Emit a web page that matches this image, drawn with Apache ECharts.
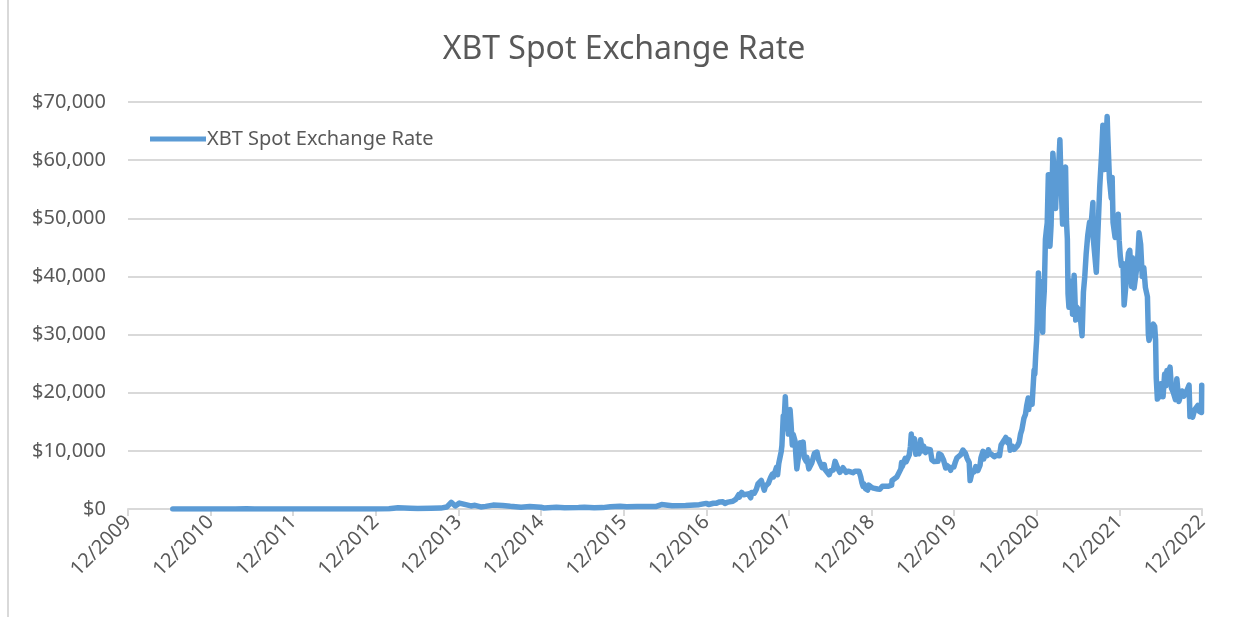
<!DOCTYPE html>
<html>
<head>
<meta charset="utf-8">
<title>XBT Spot Exchange Rate</title>
<script src="https://cdn.jsdelivr.net/npm/echarts@6/dist/echarts.min.js"></script>
<style>
  html, body { margin: 0; padding: 0; background: #fff; }
  #chart { width: 1248px; height: 617px; }
</style>
</head>
<body>
<div id="chart"></div>
<script>
// closes, [date, USD]
const closesEarly = [
  ["2010-07-18", 0.09], ["2010-10-01", 0.06], ["2010-11-07", 0.39], ["2011-01-01", 0.3],
  ["2011-02-10", 1.0], ["2011-04-20", 1.2], ["2011-06-08", 29.6], ["2011-07-15", 14],
  ["2011-09-01", 8], ["2011-11-18", 2.1], ["2012-01-08", 7], ["2012-04-01", 4.9],
  ["2012-06-01", 5.3], ["2012-08-17", 13.5], ["2012-10-01", 12.4], ["2012-12-31", 13.5],
  ["2013-02-28", 33], ["2013-04-09", 230], ["2013-04-16", 68], ["2013-06-01", 129],
  ["2013-07-05", 68], ["2013-09-01", 138], ["2013-10-15", 154], ["2013-11-10", 330],
  ["2013-11-30", 1150], ["2013-12-18", 520], ["2014-01-05", 1010], ["2014-02-25", 530],
  ["2014-03-15", 630], ["2014-04-10", 360], ["2014-05-01", 450], ["2014-06-03", 670],
  ["2014-07-15", 620], ["2014-08-18", 470], ["2014-10-05", 320], ["2014-11-12", 430],
  ["2014-12-31", 315], ["2015-01-14", 178], ["2015-03-10", 290], ["2015-04-15", 220],
  ["2015-06-16", 250], ["2015-07-12", 310], ["2015-08-24", 210], ["2015-10-01", 238],
  ["2015-11-04", 400], ["2015-11-11", 310], ["2015-12-16", 455], ["2016-01-15", 375],
  ["2016-03-01", 435], ["2016-05-25", 450], ["2016-06-17", 760], ["2016-08-02", 545],
  ["2016-10-01", 615], ["2016-11-30", 745], ["2016-12-31", 965]
];
const closes2017 = [
  ["2017-01-04", 1135], ["2017-01-11", 780], ["2017-01-18", 900], ["2017-02-01", 990],
  ["2017-02-15", 1010], ["2017-03-01", 1220], ["2017-03-15", 1250], ["2017-03-24", 935],
  ["2017-04-07", 1190], ["2017-04-28", 1340], ["2017-05-12", 1700], ["2017-05-24", 2450],
  ["2017-05-27", 2050], ["2017-06-06", 2860], ["2017-06-11", 2950], ["2017-06-15", 2450],
  ["2017-06-20", 2750], ["2017-07-05", 2600], ["2017-07-16", 1930], ["2017-07-20", 2850],
  ["2017-08-01", 2730], ["2017-08-10", 3400], ["2017-08-17", 4300], ["2017-08-22", 4100],
  ["2017-09-01", 4900], ["2017-09-07", 4600], ["2017-09-14", 3230], ["2017-09-19", 3900],
  ["2017-10-02", 4400], ["2017-10-12", 5400], ["2017-10-20", 6000], ["2017-10-24", 5500],
  ["2017-11-07", 7150], ["2017-11-12", 5900], ["2017-11-17", 7800], ["2017-11-28", 9900],
  ["2017-12-01", 10900], ["2017-12-07", 16000], ["2017-12-10", 14700], ["2017-12-16", 19300],
  ["2017-12-22", 13800], ["2017-12-26", 16000], ["2017-12-30", 12900]
];
const closes2018 = [
  ["2018-01-06", 17100], ["2018-01-10", 14900], ["2018-01-16", 11000], ["2018-01-20", 12800],
  ["2018-01-28", 11700], ["2018-02-01", 9100], ["2018-02-05", 6900], ["2018-02-14", 9400],
  ["2018-02-20", 11400], ["2018-02-24", 9700], ["2018-03-05", 11500], ["2018-03-10", 8800],
  ["2018-03-18", 8200], ["2018-03-21", 8900], ["2018-03-30", 6900], ["2018-04-06", 6600],
  ["2018-04-12", 7900], ["2018-04-24", 9600], ["2018-05-05", 9800], ["2018-05-12", 8500],
  ["2018-05-20", 8500], ["2018-05-28", 7100], ["2018-06-06", 7650], ["2018-06-10", 6800],
  ["2018-06-28", 5900], ["2018-07-05", 6600], ["2018-07-16", 6700], ["2018-07-24", 8200],
  ["2018-07-29", 8200], ["2018-08-05", 7000], ["2018-08-14", 6300], ["2018-08-28", 7100],
  ["2018-09-04", 7400], ["2018-09-11", 6300], ["2018-09-20", 6500], ["2018-10-11", 6250],
  ["2018-10-20", 6500], ["2018-11-07", 6500], ["2018-11-14", 5600], ["2018-11-20", 4500],
  ["2018-11-25", 3900], ["2018-11-28", 4300], ["2018-12-06", 3500], ["2018-12-15", 3250],
  ["2018-12-20", 4100], ["2018-12-24", 4000], ["2018-12-31", 3750]
];
const closes2019 = [
  ["2019-01-07", 4000], ["2019-01-10", 3600], ["2019-01-28", 3450], ["2019-02-07", 3400],
  ["2019-02-18", 3900], ["2019-03-15", 3900], ["2019-03-31", 4100], ["2019-04-02", 4900],
  ["2019-04-23", 5500], ["2019-05-01", 5400], ["2019-05-11", 6900], ["2019-05-14", 8000],
  ["2019-05-17", 7300], ["2019-05-30", 8700], ["2019-06-03", 8100], ["2019-06-10", 8000],
  ["2019-06-17", 9300], ["2019-06-22", 10700], ["2019-06-26", 12900], ["2019-06-27", 11000],
  ["2019-07-02", 10800], ["2019-07-10", 12100], ["2019-07-16", 9400], ["2019-07-20", 10700],
  ["2019-07-30", 9500], ["2019-08-06", 11900], ["2019-08-14", 10000], ["2019-08-20", 10800],
  ["2019-08-28", 9700], ["2019-09-06", 10300], ["2019-09-18", 10200], ["2019-09-25", 8450],
  ["2019-10-05", 8150], ["2019-10-22", 8200], ["2019-10-26", 9500], ["2019-11-05", 9300],
  ["2019-11-15", 8500], ["2019-11-25", 7050], ["2019-11-30", 7500], ["2019-12-10", 7200],
  ["2019-12-17", 6650], ["2019-12-20", 7150], ["2019-12-31", 7200]
];
const closes2020 = [
  ["2020-01-07", 8100], ["2020-01-14", 8800], ["2020-01-20", 8600], ["2020-01-31", 9350],
  ["2020-02-09", 10150], ["2020-02-12", 10350], ["2020-02-20", 9600], ["2020-02-28", 8700],
  ["2020-03-08", 8000], ["2020-03-12", 4900], ["2020-03-16", 5000], ["2020-03-20", 6200],
  ["2020-03-30", 6400], ["2020-04-06", 7300], ["2020-04-15", 6600], ["2020-04-25", 7550],
  ["2020-04-29", 8800], ["2020-05-08", 9900], ["2020-05-11", 8600], ["2020-05-18", 9700],
  ["2020-05-27", 9200], ["2020-06-01", 10200], ["2020-06-05", 9700], ["2020-06-15", 9400],
  ["2020-06-27", 9000], ["2020-07-07", 9250], ["2020-07-20", 9150], ["2020-07-27", 11000],
  ["2020-08-02", 11100], ["2020-08-10", 11850], ["2020-08-17", 12300], ["2020-08-25", 11400],
  ["2020-09-01", 11900], ["2020-09-05", 10100], ["2020-09-15", 10800], ["2020-09-23", 10250],
  ["2020-10-08", 10900], ["2020-10-15", 11500], ["2020-10-21", 12900], ["2020-10-27", 13650],
  ["2020-11-05", 15600], ["2020-11-12", 16300], ["2020-11-17", 17700], ["2020-11-24", 19100],
  ["2020-11-26", 17100], ["2020-12-01", 18800], ["2020-12-11", 18000], ["2020-12-16", 21300],
  ["2020-12-20", 23900], ["2020-12-23", 23200], ["2020-12-27", 26500], ["2020-12-31", 29000]
];
const closes2021 = [
  ["2021-01-03", 32100], ["2021-01-08", 40600], ["2021-01-11", 35500], ["2021-01-14", 39200],
  ["2021-01-17", 36000], ["2021-01-22", 32900], ["2021-01-27", 30400], ["2021-01-29", 34300],
  ["2021-02-03", 37600], ["2021-02-08", 46400], ["2021-02-12", 47900], ["2021-02-16", 49200],
  ["2021-02-21", 57500], ["2021-02-23", 48900], ["2021-02-28", 45200], ["2021-03-05", 48800],
  ["2021-03-10", 56000], ["2021-03-13", 61200], ["2021-03-18", 58000], ["2021-03-25", 51700],
  ["2021-03-31", 58800], ["2021-04-06", 57600], ["2021-04-13", 63500], ["2021-04-18", 56200],
  ["2021-04-25", 49000], ["2021-04-30", 57700], ["2021-05-08", 58800], ["2021-05-12", 49500],
  ["2021-05-16", 46400], ["2021-05-19", 37000], ["2021-05-23", 34700], ["2021-05-28", 35700],
  ["2021-06-03", 39200], ["2021-06-08", 33500], ["2021-06-15", 40200], ["2021-06-22", 32500],
  ["2021-06-27", 34700], ["2021-07-06", 34200], ["2021-07-13", 32700], ["2021-07-20", 29800],
  ["2021-07-26", 37300], ["2021-08-01", 40000], ["2021-08-07", 43800], ["2021-08-14", 47000],
  ["2021-08-22", 49300], ["2021-08-29", 48900], ["2021-09-06", 52700], ["2021-09-07", 46800],
  ["2021-09-14", 47100], ["2021-09-21", 40700], ["2021-09-28", 41000], ["2021-10-06", 55300],
  ["2021-10-15", 61500], ["2021-10-20", 66000], ["2021-10-27", 58400], ["2021-11-01", 61300],
  ["2021-11-08", 67500], ["2021-11-10", 64900], ["2021-11-18", 56800], ["2021-11-26", 53500],
  ["2021-11-30", 57000], ["2021-12-04", 49300], ["2021-12-13", 46700], ["2021-12-20", 46900],
  ["2021-12-27", 50700], ["2021-12-31", 46200]
];
const closes2022 = [
  ["2022-01-05", 43500], ["2022-01-10", 41800], ["2022-01-17", 42200], ["2022-01-22", 35100],
  ["2022-01-28", 37700], ["2022-02-04", 41500], ["2022-02-10", 44000], ["2022-02-16", 44500],
  ["2022-02-24", 38300], ["2022-02-28", 43200], ["2022-03-07", 38000], ["2022-03-14", 37800],
  ["2022-03-22", 42400], ["2022-03-29", 47500], ["2022-04-05", 45500], ["2022-04-12", 40000],
  ["2022-04-19", 41500], ["2022-04-26", 38100], ["2022-05-05", 36500], ["2022-05-09", 30100],
  ["2022-05-12", 29000], ["2022-05-20", 29200], ["2022-05-31", 31800], ["2022-06-06", 31400],
  ["2022-06-10", 29100], ["2022-06-13", 22500], ["2022-06-18", 18900], ["2022-06-25", 21500],
  ["2022-07-01", 19300], ["2022-07-08", 21600], ["2022-07-13", 19300], ["2022-07-20", 23200],
  ["2022-07-26", 21200], ["2022-07-30", 23800], ["2022-08-05", 22600], ["2022-08-13", 24400],
  ["2022-08-19", 20800], ["2022-08-26", 20200], ["2022-09-06", 18800], ["2022-09-12", 22400],
  ["2022-09-21", 18500], ["2022-09-28", 19400], ["2022-10-05", 20300], ["2022-10-13", 19400],
  ["2022-10-21", 19100], ["2022-10-29", 20600], ["2022-11-05", 21300], ["2022-11-09", 15900],
  ["2022-11-14", 16600], ["2022-11-21", 15800], ["2022-11-30", 17100], ["2022-12-05", 17000],
  ["2022-12-14", 17800], ["2022-12-20", 16800], ["2022-12-30", 16600], ["2022-12-31", 21300]
];
const yTicks = [0, 10000, 20000, 30000, 40000, 50000, 60000, 70000];
const firstYear = 2009; // first tick label 12/2009
const yearCount = 13;

// x is measured in years from the 12/2009 tick (end of Dec 2009)
const YEAR_MS = 365.25 * 86400000;
const axisStart = Date.UTC(firstYear + 1, 0, 1);
function toYears(s) {
  const p = s.split("-").map(Number);
  return (Date.UTC(p[0], p[1] - 1, p[2]) - axisStart) / YEAR_MS;
}
const seriesData = []
  .concat(closesEarly, closes2017, closes2018, closes2019, closes2020, closes2021, closes2022)
  .map(d => [toYears(d[0]), d[1]]);

const textColor = "#595959";
const gridColor = "#d9d9d9";
const lineColor = "#5b9bd5";
const font = "'Noto Sans', 'Open Sans', sans-serif";

const chart = echarts.init(document.getElementById("chart"));
chart.setOption({
  animation: false,
  backgroundColor: "#fff",
  title: {
    text: "XBT Spot Exchange Rate",
    left: "center",
    top: 29,
    textStyle: { color: textColor, fontSize: 32, fontWeight: "normal", fontFamily: font },
  },
  legend: {
    left: 145,
    top: 124,
    icon: "rect",
    itemWidth: 56,
    itemHeight: 5,
    textStyle: { color: textColor, fontSize: 20, fontFamily: font, padding: [0, 0, 0, -4] },
    data: ["XBT Spot Exchange Rate"],
  },
  grid: { left: 128, right: 46, top: 102, bottom: 108 },
  xAxis: {
    type: "value",
    min: 0,
    max: yearCount,
    interval: 1,
    axisLine: { lineStyle: { color: gridColor, width: 2 } },
    axisTick: { show: true, length: 7, lineStyle: { color: gridColor, width: 2 } },
    splitLine: { show: false },
    axisLabel: {
      rotate: 45,
      margin: 10,
      color: textColor,
      fontSize: 20,
      fontFamily: font,
      formatter: v => "12/" + (firstYear + v),
    },
  },
  yAxis: {
    type: "value",
    min: yTicks[0],
    max: yTicks[yTicks.length - 1],
    interval: yTicks[1] - yTicks[0],
    axisLine: { show: false },
    axisTick: { show: false },
    splitLine: { lineStyle: { color: gridColor, width: 2 } },
    axisLabel: {
      margin: 22,
      color: textColor,
      fontSize: 20,
      fontFamily: font,
      formatter: v => "$" + v.toLocaleString("en-US"),
    },
  },
  series: [
    {
      name: "XBT Spot Exchange Rate",
      type: "line",
      data: seriesData,
      showSymbol: false,
      symbol: "none",
      clip: true,
      itemStyle: { color: lineColor },
      lineStyle: { color: lineColor, width: 5.5, join: "round", cap: "round" },
    },
  ],
  graphic: [
    {
      type: "line",
      shape: { x1: 8, y1: 0, x2: 8, y2: 617 },
      style: { stroke: gridColor, lineWidth: 2 },
    },
  ],
});
</script>
</body>
</html>
